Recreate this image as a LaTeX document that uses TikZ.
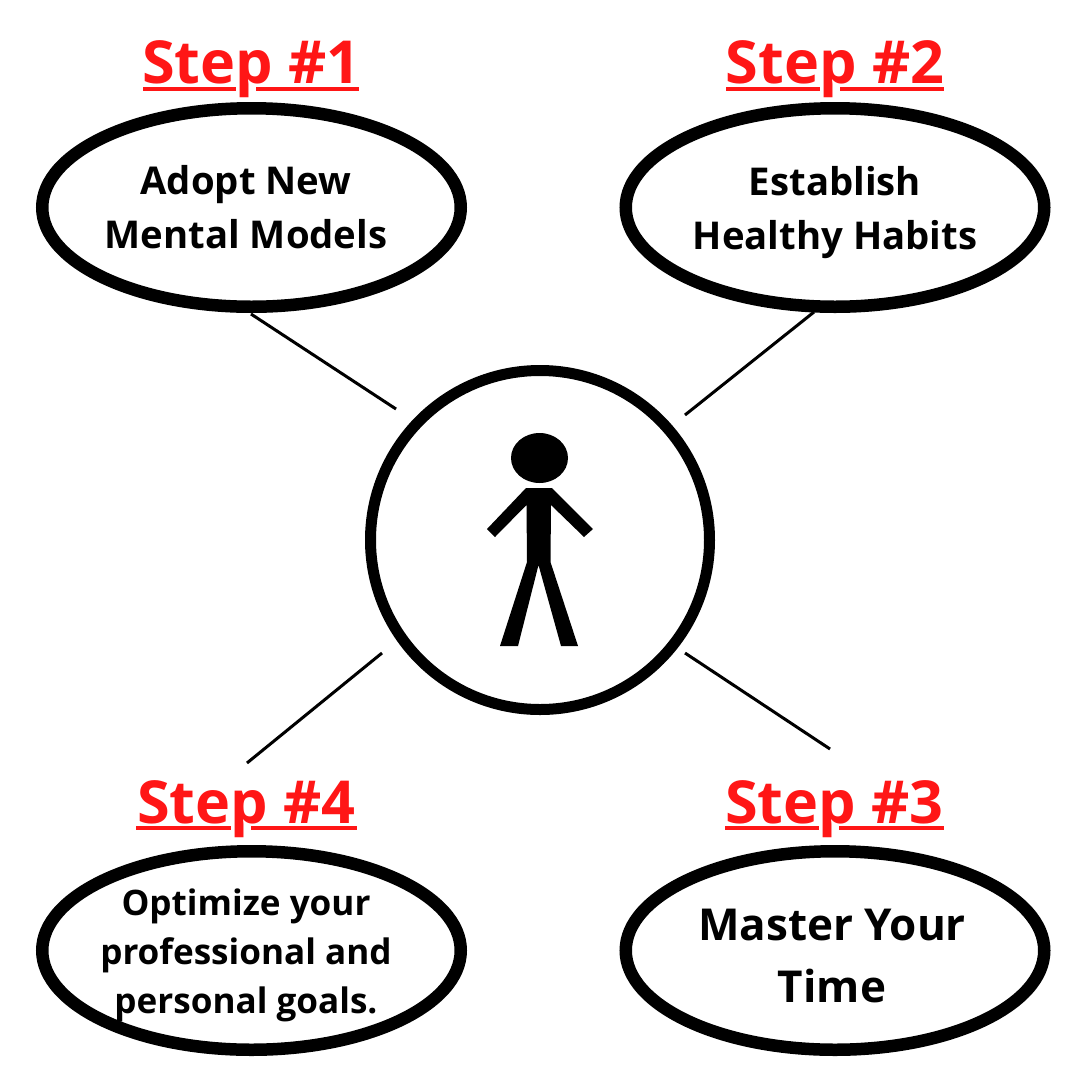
\documentclass[tikz,border=0pt]{standalone}
\usepackage{fontspec}
\setmainfont{Open Sans}
\usetikzlibrary{shapes.geometric}
\definecolor{stepred}{RGB}{255,22,22}
\tikzset{
  px/.style={x=1pt,y=-1pt},
  bubble/.style={draw=black,line width=12.5pt,ellipse,minimum width=418.5pt,minimum height=198.5pt,inner sep=0pt},
  steplabel/.style={text=stepred,font=\fontsize{59.3}{59.3}\selectfont\bfseries,inner sep=0pt,anchor=base},
  uline/.style={stepred,line width=4.8pt},
  caption/.style={font=\fontsize{#1}{#1}\selectfont\bfseries,inner sep=0pt,anchor=base,text=black},
  spoke/.style={line width=3pt,draw=black}
}
\begin{document}
\begin{tikzpicture}[px]
\useasboundingbox (0,0) rectangle (1080,1080);
\fill[white] (0,0) rectangle (1080,1080);

% Four bubbles
\node[bubble] (b1) at (251.5,207.5) {};
\node[bubble] (b2) at (835,207.5) {};
\node[bubble] (b3) at (835,950.5) {};
\node[bubble] (b4) at (251.5,950.5) {};

% Central circle
\node[draw=black,line width=11pt,circle,minimum size=339pt,inner sep=0pt] (hub) at (540,540) {};

% Spokes
\coordinate (s1a) at (251,314); \coordinate (s1b) at (396,409);
\coordinate (s2a) at (814,312); \coordinate (s2b) at (685,415);
\coordinate (s3a) at (685,653); \coordinate (s3b) at (830,749);
\coordinate (s4a) at (382,653); \coordinate (s4b) at (247,763);
\draw[spoke] (s1a) -- (s1b);
\draw[spoke] (s2a) -- (s2b);
\draw[spoke] (s3a) -- (s3b);
\draw[spoke] (s4a) -- (s4b);

% Step headings; each underline breaks around the descender of the p
\node[steplabel] (t1) at (251.5,83.5) {Step \#1};
\node[steplabel] (t2) at (835,83.5) {Step \#2};
\node[steplabel] (t3) at (834.5,823.5) {Step \#3};
\node[steplabel] (t4) at (246.5,823.5) {Step \#4};
\draw[uline] (143,89) -- (236,89) (256,89) -- (359,89);
\draw[uline] (726,89) -- (820,89) (840,89) -- (944,89);
\draw[uline] (725,828) -- (819,828) (839,828) -- (944,828);
\draw[uline] (136,828) -- (231,828) (251,828) -- (357,828);

% Bubble captions
\node[caption=38.3] (c1a) at (246,194) {Adopt New};
\node[caption=38.3] (c1b) at (246,248) {Mental Models};
\node[caption=38.3] (c2a) at (835,195) {Establish};
\node[caption=38.3] (c2b) at (835,249) {Healthy Habits};
\node[caption=44] (c3a) at (832,940) {Master Your};
\node[caption=44] (c3b) at (832,1002) {Time};
\node[caption=35.1] (c4a) at (246,915) {Optimize your};
\node[caption=35.1] (c4b) at (246,964) {professional and};
\node[caption=35.1] (c4c) at (246,1013) {personal goals.};

% Stick figure
\fill[black] (539.5,458) ellipse [x radius=28.5pt,y radius=25pt];
\fill[black] (526,488) -- (552,488) -- (593,529) -- (584,537) -- (551,505) -- (550.5,562)
  -- (578,646) -- (561,646) -- (538.5,565) -- (518,646) -- (500,646) -- (527,562)
  -- (526.5,505) -- (495,537) -- (487,529) -- cycle;
\end{tikzpicture}
\end{document}
